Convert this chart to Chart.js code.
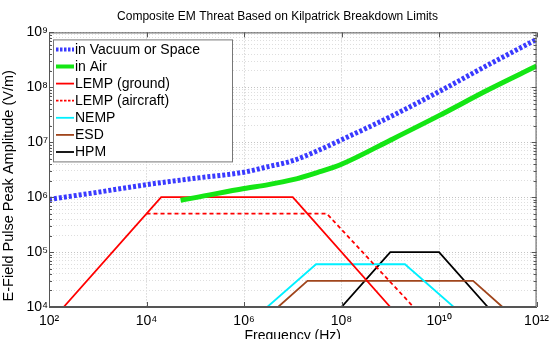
<!DOCTYPE html>
<html>
<head>
<meta charset="utf-8">
<script src="https://cdn.jsdelivr.net/npm/chart.js@4.4.1/dist/chart.umd.min.js"></script>
<style>
  html, body { margin: 0; padding: 0; background: #fff; }
  #wrap { width: 555px; height: 339px; }
</style>
</head>
<body>
<div id="wrap"><canvas id="c" width="555" height="339"></canvas></div>
<script>
// ---- data ----
const freqTicks = [1e2, 1e4, 1e6, 1e8, 1e10, 1e12];
const freqTickLabels = ['10²', '10⁴', '10⁶', '10⁸', '10¹⁰', '10¹²'];
const ampTicks = [1e4, 1e5, 1e6, 1e7, 1e8, 1e9];
const ampTickLabels = ['10⁴', '10⁵', '10⁶', '10⁷', '10⁸', '10⁹'];

const seriesNames = ['in Vacuum or Space', 'in Air', 'LEMP (ground)', 'LEMP (aircraft)', 'NEMP', 'ESD', 'HPM'];

const vacuumFreq = [1e2, 1e3, 1e4, 1e5, 1e6, 3.16e6, 1e7, 3.16e7, 1e8, 1e9, 1e10, 1e11, 1e12];
const vacuumE    = [9.08e5, 1.23e6, 1.69e6, 2.21e6, 2.85e6, 3.6e6, 4.61e6, 6.95e6, 1.11e7, 2.91e7, 8.36e7, 2.54e8, 7.46e8];

const airFreq = [5e4, 1e5, 1e6, 3.16e6, 1e7, 3.16e7, 1e8, 1e9, 1e10, 1e11, 1e12];
const airE    = [8.8e5, 9.8e5, 1.44e6, 1.69e6, 2.08e6, 2.81e6, 3.98e6, 1.09e7, 3.05e7, 8.93e7, 2.44e8];

const lempGroundFreq = [2e2, 2e4, 1e7, 1e9];
const lempGroundE    = [1e4, 1e6, 1e6, 1e4];

const lempAirFreq = [1e4, 5e7, 3e9];
const lempAirE    = [5e5, 5e5, 1e4];

const nempFreq = [3e6, 3e7, 2e9, 2e10];
const nempE    = [1e4, 6e4, 6e4, 1e4];

const esdFreq = [5e6, 2e7, 5e10, 2e11];
const esdE    = [1e4, 3e4, 3e4, 1e4];

const hpmFreq = [1e8, 1e9, 1e10, 1e11];
const hpmE    = [1e4, 1e5, 1e5, 1e4];

const titleText = 'Composite EM Threat Based on Kilpatrick Breakdown Limits';
const xTitle = 'Frequency (Hz)';
const yTitle = 'E-Field Pulse Peak Amplitude (V/m)';

// ---- build ----
const pts = (xs, ys) => xs.map((x, i) => ({ x: x, y: ys[i] }));
const FONT = "'Liberation Sans', Arial, Helvetica, sans-serif";

function ds(label, data, color, width, dash, smooth) {
  return {
    label: label,
    data: data,
    borderColor: color,
    backgroundColor: color,
    borderWidth: width,
    borderDash: dash || [],
    pointRadius: 0,
    fill: false,
    cubicInterpolationMode: smooth ? 'monotone' : 'default',
    tension: 0,
    borderCapStyle: 'butt',
    borderJoinStyle: 'miter',
    yAxisID: 'y'
  };
}

const datasets = [
  ds(seriesNames[0], pts(vacuumFreq, vacuumE), '#3a3aff', 5, [3, 2], true),
  ds(seriesNames[1], pts(airFreq, airE), '#14e614', 5, [], true),
  ds(seriesNames[2], pts(lempGroundFreq, lempGroundE), '#ff0000', 1.8),
  ds(seriesNames[3], pts(lempAirFreq, lempAirE), '#ff0000', 1.8, [4, 3]),
  ds(seriesNames[4], pts(nempFreq, nempE), '#00f0ff', 1.8),
  ds(seriesNames[5], pts(esdFreq, esdE), '#a0451c', 1.8),
  ds(seriesNames[6], pts(hpmFreq, hpmE), '#000000', 1.8)
];

const isMajor = v => Math.abs(Math.log10(v) - Math.round(Math.log10(v))) < 1e-9;

const framePlugin = {
  id: 'frame',
  afterDatasetsDraw(chart) {
    const a = chart.chartArea, ctx = chart.ctx;
    const xs = chart.scales.x, ys = chart.scales.y;
    ctx.save();
    ctx.strokeStyle = '#555';
    ctx.lineWidth = 1;
    ctx.setLineDash([]);
    ctx.strokeRect(a.left + 0.5, a.top + 0.5, a.right - a.left - 1, a.bottom - a.top - 1);
    ctx.beginPath();
    ys.ticks.forEach(t => {
      const y = Math.round(ys.getPixelForValue(t.value)) + 0.5;
      const len = isMajor(t.value) ? 5 : 3;
      ctx.moveTo(a.left, y); ctx.lineTo(a.left + len, y);
      ctx.moveTo(a.right, y); ctx.lineTo(a.right - len, y);
    });
    xs.ticks.forEach(t => {
      const x = Math.round(xs.getPixelForValue(t.value)) + 0.5;
      ctx.moveTo(x, a.bottom); ctx.lineTo(x, a.bottom - 5);
      ctx.moveTo(x, a.top); ctx.lineTo(x, a.top + 5);
    });
    ctx.stroke();
    ctx.restore();
  }
};

const legendPlugin = {
  id: 'boxLegend',
  afterDraw(chart) {
    const ctx = chart.ctx, a = chart.chartArea;
    const bx = a.left + 4, by = a.top + 7, bw = 179, bh = 122;
    ctx.save();
    ctx.fillStyle = '#fff';
    ctx.fillRect(bx, by, bw, bh);
    ctx.strokeStyle = '#777';
    ctx.lineWidth = 1;
    ctx.setLineDash([]);
    ctx.strokeRect(bx + 0.5, by + 0.5, bw, bh);
    ctx.font = '14px ' + FONT;
    ctx.textBaseline = 'middle';
    ctx.fillStyle = '#000';
    chart.data.datasets.forEach((d, i) => {
      const y = by + 10 + i * 17.1;
      ctx.beginPath();
      ctx.strokeStyle = d.borderColor;
      ctx.lineWidth = Math.min(d.borderWidth, 4);
      ctx.setLineDash(d.borderDash && d.borderDash.length ? [2.5, 1.5] : []);
      ctx.moveTo(bx + 3, y);
      ctx.lineTo(bx + 21, y);
      ctx.stroke();
      ctx.setLineDash([]);
      ctx.fillText(d.label, bx + 22, y + 0.5);
    });
    ctx.restore();
  }
};

new Chart(document.getElementById('c'), {
  type: 'line',
  data: { datasets: datasets },
  options: {
    responsive: false,
    animation: false,
    devicePixelRatio: 1,
    layout: { padding: { left: 0, right: 0, top: 0, bottom: 0 } },
    plugins: {
      legend: { display: false },
      tooltip: { enabled: false },
      title: {
        display: true,
        text: titleText,
        color: '#000',
        font: { family: FONT, size: 12, weight: 'normal' },
        padding: { top: 9.5, bottom: 8.5 }
      }
    },
    scales: {
      x: {
        type: 'logarithmic',
        min: 1e2, max: 1e12,
        afterBuildTicks: s => { s.ticks = freqTicks.map(v => ({ value: v })); },
        afterFit: s => { s.height = 32; },
        ticks: {
          autoSkip: false,
          maxRotation: 0,
          padding: 6,
          color: '#000',
          font: { family: FONT, size: 14 },
          callback: v => { const i = freqTicks.findIndex(t => Math.abs(t - v) / t < 1e-6); return i >= 0 ? freqTickLabels[i] : ''; }
        },
        grid: { drawTicks: false, color: '#c4c4c4', lineWidth: 1 },
        border: { display: true, color: '#555', dash: [1, 2] },
        title: {
          display: true,
          text: xTitle,
          color: '#000',
          font: { family: FONT, size: 14 },
          padding: { top: 0, bottom: -6 }
        }
      },
      y: {
        type: 'logarithmic',
        position: 'left',
        min: 1e4, max: 1e9,
        afterBuildTicks: s => {
          const t = [];
          for (let d = 4; d < 9; d++) for (let m = 1; m <= 9; m++) t.push({ value: m * Math.pow(10, d) });
          t.push({ value: 1e9 });
          s.ticks = t;
        },
        afterFit: s => { s.width = 49; },
        ticks: {
          autoSkip: false,
          padding: 1,
          color: '#000',
          font: { family: FONT, size: 14 },
          callback: v => { const i = ampTicks.findIndex(t => Math.abs(t - v) / t < 1e-6); return i >= 0 ? ampTickLabels[i] : ''; }
        },
        grid: {
          drawTicks: false,
          color: c => (c.tick && isMajor(c.tick.value)) ? '#c4c4c4' : '#dedede',
          lineWidth: 1
        },
        border: { display: true, color: '#555', dash: [1, 2] },
        title: {
          display: true,
          text: yTitle + '\u00a0\u00a0\u00a0\u00a0\u00a0\u00a0\u00a0\u00a0',
          color: '#000',
          font: { family: FONT, size: 14.5 },
          padding: { top: 0, bottom: 2 }
        }
      },
      yRight: {
        type: 'linear',
        position: 'right',
        display: true,
        afterFit: s => { s.width = 13; },
        ticks: { display: false },
        grid: { display: false, drawTicks: false },
        border: { display: false }
      }
    }
  },
  plugins: [framePlugin, legendPlugin]
});
</script>
</body>
</html>
